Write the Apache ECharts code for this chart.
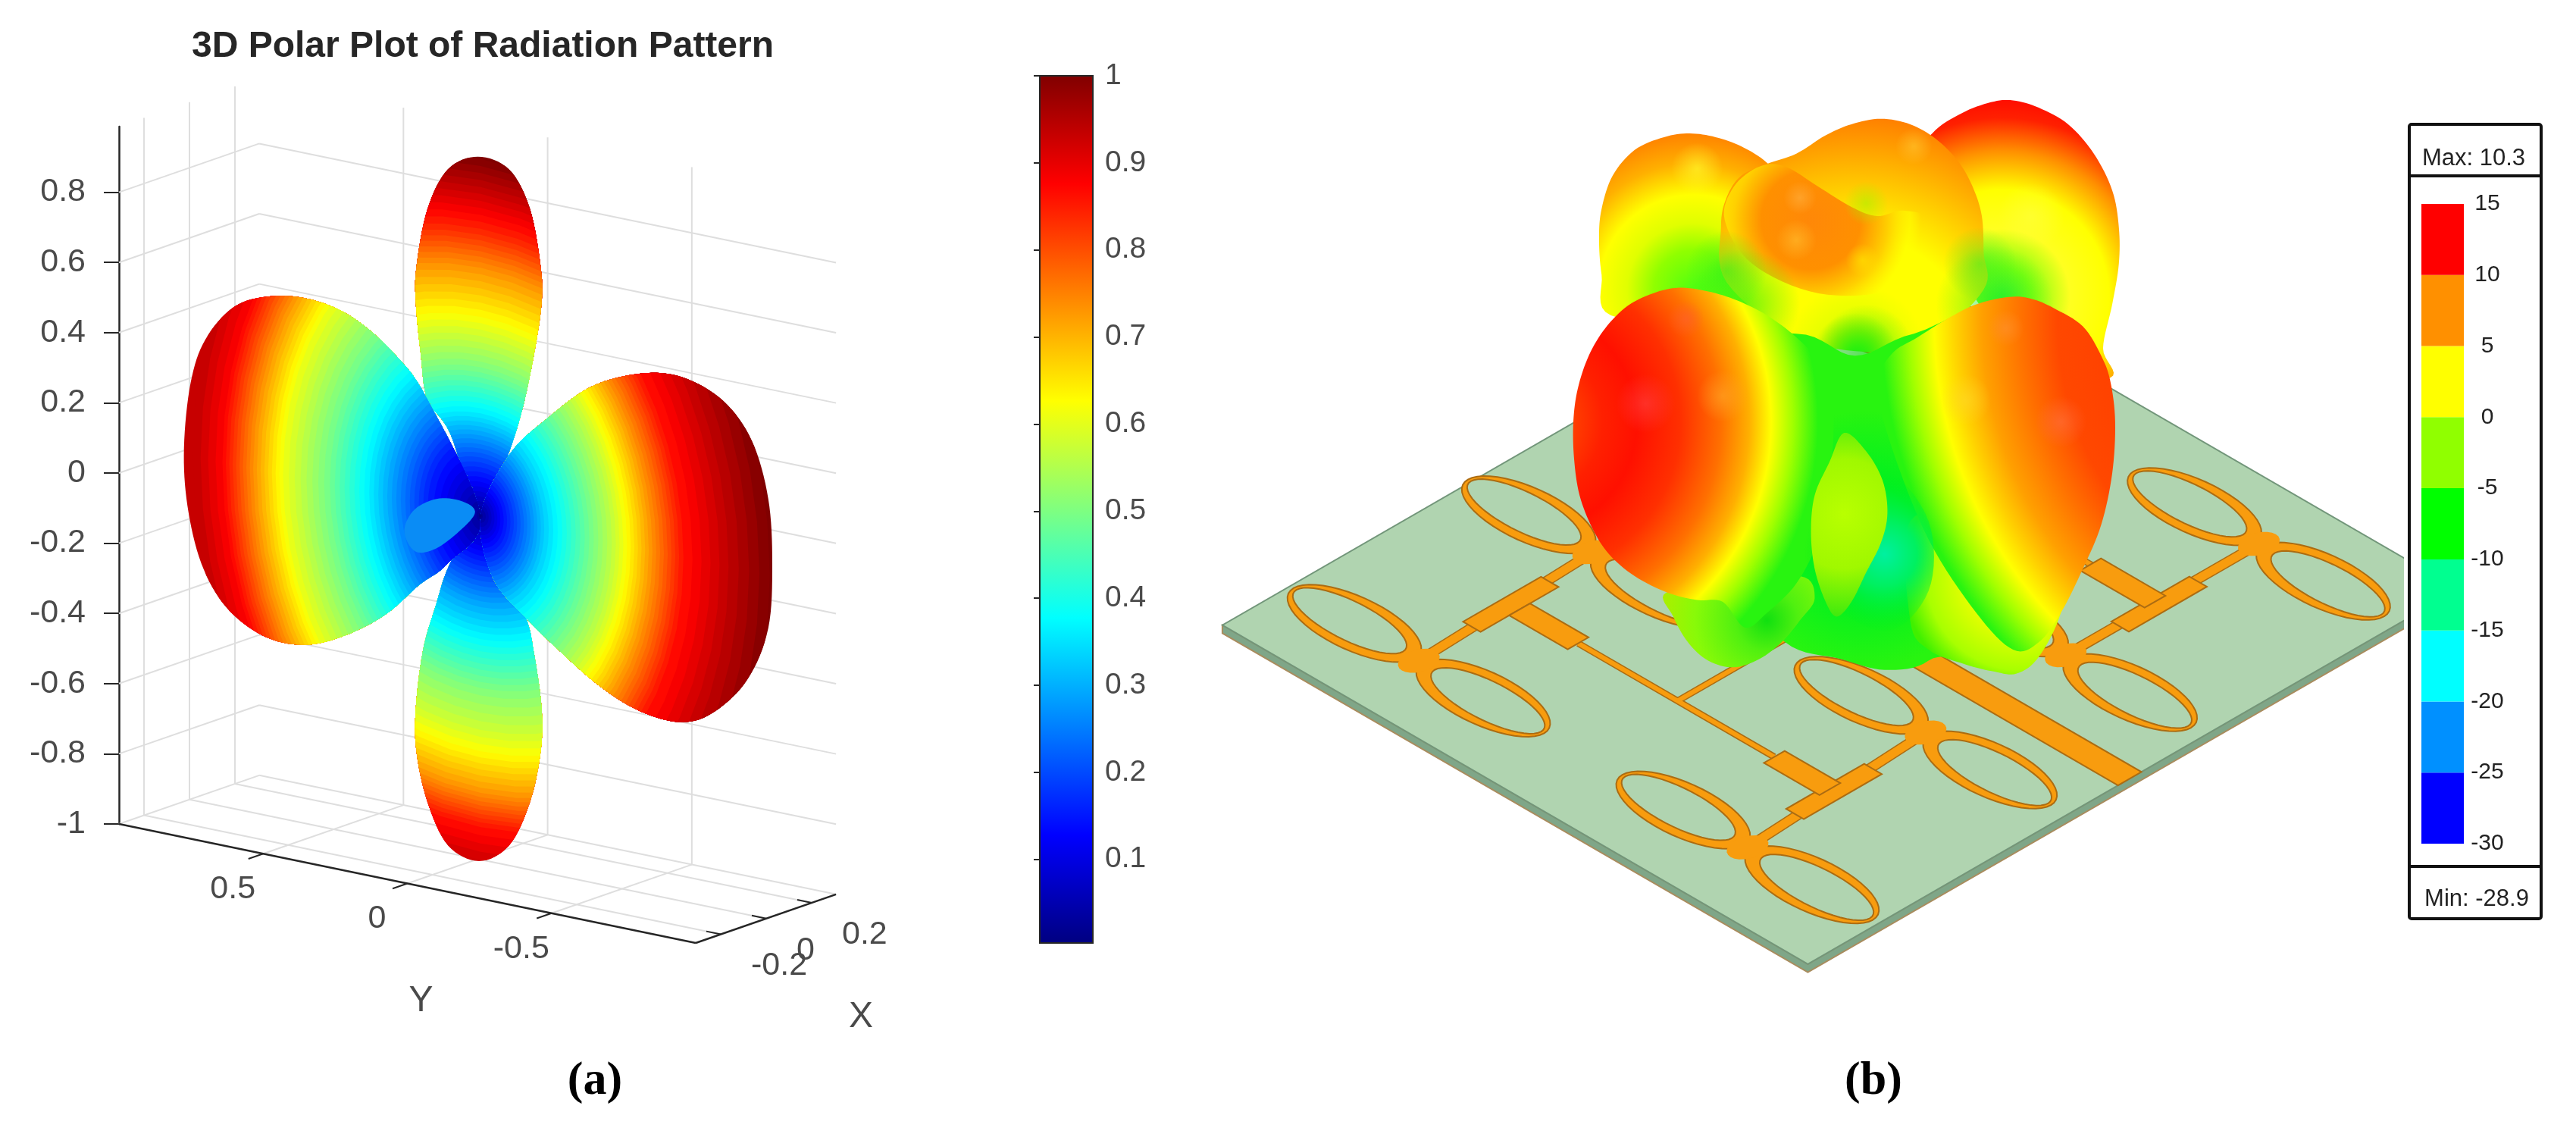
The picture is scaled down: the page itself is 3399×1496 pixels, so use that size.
<!DOCTYPE html>
<html>
<head>
<meta charset="utf-8">
<style>html,body{margin:0;background:#fff}#chart{width:3399px;height:1496px}</style>
<script src="https://cdn.jsdelivr.net/npm/echarts@6/dist/echarts.min.js"></script>
</head>
<body>
<div id="chart"></div>
<script>
// ---- panel (a) data
const zTicks = [-1, -0.8, -0.6, -0.4, -0.2, 0, 0.2, 0.4, 0.6, 0.8];
const yTicks = [0.5, 0, -0.5];
const xTicks = [-0.2, 0, 0.2];
const colorbarTicks = [0.1, 0.2, 0.3, 0.4, 0.5, 0.6, 0.7, 0.8, 0.9, 1];
const jetStops = [[0, '#000080'], [0.125, '#0000ff'], [0.375, '#00ffff'], [0.625, '#ffff00'], [0.875, '#ff0000'], [1, '#800000']];

// lobe outlines as [Y, Z]
const leftLobe = [[-0.01, -0.02], [0.175, 0.28], [0.289, 0.39], [0.432, 0.469], [0.574, 0.496], [0.717, 0.482], [0.845, 0.43], [0.945, 0.32], [0.996, 0.188], [1.019, -0.001], [1.007, -0.164], [0.959, -0.32], [0.874, -0.429], [0.745, -0.49], [0.603, -0.492], [0.46, -0.441], [0.318, -0.356], [0.204, -0.254], [0.104, -0.175]];
const rightLobe = [[-0.01, -0.02], [-0.109, 0.17], [-0.238, 0.294], [-0.394, 0.413], [-0.565, 0.479], [-0.708, 0.493], [-0.85, 0.45], [-0.95, 0.353], [-1.007, 0.198], [-1.021, 0.016], [-1.007, -0.172], [-0.936, -0.328], [-0.822, -0.44], [-0.708, -0.49], [-0.565, -0.484], [-0.423, -0.436], [-0.28, -0.357], [-0.166, -0.284], [-0.052, -0.19]];
const topLobe = [[0, 1.001], [-0.109, 0.983], [-0.181, 0.882], [-0.218, 0.723], [-0.221, 0.621], [-0.195, 0.472], [-0.152, 0.3], [-0.095, 0.147], [-0.01, -0.02], [0.096, 0.197], [0.175, 0.28], [0.198, 0.406], [0.215, 0.547], [0.213, 0.65], [0.175, 0.821], [0.104, 0.947]];
const bottomLobe = [[-0.004, -1.005], [-0.109, -0.942], [-0.181, -0.806], [-0.218, -0.656], [-0.221, -0.532], [-0.195, -0.382], [-0.166, -0.284], [-0.081, -0.164], [-0.01, -0.02], [0.096, -0.174], [0.147, -0.306], [0.19, -0.437], [0.215, -0.606], [0.213, -0.729], [0.175, -0.866], [0.104, -0.978]];
const frontLobe = [[0.255, -0.108], [0.218, -0.04], [0.133, 0.005], [0.047, 0.009], [0.01, -0.015], [0.062, -0.075], [0.147, -0.141], [0.218, -0.16]];

// colour value against distance from the origin, one list per lobe: [value, distance]
const leftLevels = [[0.02, 0.01], [0.15, 0.185], [0.35, 0.385], [0.48, 0.527], [0.6, 0.684], [0.72, 0.784], [0.87, 0.898], [0.93, 0.998]];
const rightLevels = [[0.02, 0.005], [0.12, 0.07], [0.32, 0.22], [0.45, 0.35], [0.56, 0.46], [0.62, 0.51], [0.72, 0.59], [0.85, 0.7], [0.93, 0.86], [1, 1.02]];
const topLevels = [[0.02, 0.01], [0.2, 0.17], [0.35, 0.29], [0.5, 0.43], [0.62, 0.57], [0.72, 0.7], [0.83, 0.81], [0.93, 0.937], [1, 1.026]];
const bottomLevels = [[0.02, 0.01], [0.28, 0.25], [0.37, 0.355], [0.5, 0.5], [0.57, 0.61], [0.62, 0.675], [0.72, 0.785], [0.85, 0.885], [0.92, 0.99]];

// ---- panel (b) data
// board in p,q (0..100)
const elementJunctions = [[22, 10.4], [20.8, 38.3], [22, 61], [22, 90], [77.6, 10.9], [75.8, 39.9], [76.3, 61], [76.3, 90.7]];
const mediumTraces = [[[22, 10.4], [20.8, 38.3]], [[22, 61], [22, 90]], [[77.6, 10.9], [75.8, 39.9]], [[76.3, 61], [76.3, 90.7]]];
const thinTraces = [[[33, 25], [66.5, 25]], [[33, 75], [66.5, 75]], [[50, 25], [50, 75]]];
const thickTraces = [
  [20, 19, 23, 31], [23, 23.4, 33, 26.6], [75.2, 19, 78.2, 31], [66.5, 23.4, 76, 26.6],
  [20, 69, 23, 81], [23, 73.4, 33, 76.6], [75.2, 69, 78.2, 81], [65, 73.4, 76, 76.6],
  [52, 47.7, 100, 51.3]
];
// pattern silhouettes, read on the crop grid of the right plot
const radiationOutlines = {
  backLeft: [[135, 590], [110, 480], [103, 380], [110, 300], [140, 210], [200, 140], [280, 105], [350, 95], [420, 105], [490, 130], [560, 175], [620, 250], [640, 500], [400, 600]],
  backRight: [[950, 200], [1010, 95], [1090, 40], [1170, 10], [1230, 5], [1300, 25], [1380, 70], [1450, 150], [1500, 250], [1518, 350], [1518, 450], [1500, 560], [1475, 680], [1495, 760], [1300, 760], [1100, 500]],
  backCenter: [[560, 178], [640, 150], [720, 100], [790, 70], [870, 55], [950, 70], [1020, 110], [1080, 170], [1120, 240], [1145, 320], [1150, 420], [1150, 520], [1000, 660], [850, 690], [640, 650], [450, 500], [435, 350], [450, 270], [490, 210]],
  frontRim: [[445, 330], [470, 240], [540, 185], [610, 185], [700, 240], [790, 295], [860, 320], [930, 305], [1010, 330], [1020, 420], [900, 520], [700, 530], [520, 450]],
  core: [[640, 640], [800, 700], [960, 640], [1250, 600], [1100, 1400], [1000, 1530], [880, 1555], [760, 1525], [610, 1480], [480, 1300], [350, 700]],
  lowerLeft: [[285, 1345], [305, 1410], [345, 1480], [400, 1530], [470, 1548], [540, 1525], [600, 1480], [650, 1420], [690, 1360], [650, 1300], [450, 1330]],
  lowerRight: [[950, 1150], [1130, 1150], [1380, 1250], [1360, 1400], [1300, 1520], [1240, 1565], [1180, 1560], [1100, 1540], [1000, 1500], [950, 1420]],
  frontLeft: [[320, 515], [250, 530], [180, 565], [120, 625], [75, 700], [45, 790], [33, 880], [35, 980], [50, 1080], [85, 1170], [130, 1240], [200, 1300], [290, 1345], [370, 1365], [440, 1370], [500, 1440], [560, 1400], [640, 1320], [700, 1200], [730, 1050], [740, 850], [700, 720], [640, 650], [560, 590], [480, 550], [400, 525]],
  frontRight: [[1220, 540], [1130, 560], [1050, 600], [970, 650], [900, 695], [860, 780], [900, 950], [1000, 1200], [1130, 1400], [1230, 1500], [1300, 1480], [1360, 1400], [1420, 1280], [1470, 1160], [1500, 1020], [1508, 880], [1495, 770], [1470, 700], [1420, 620], [1340, 570], [1280, 545]],
  midGlow: [[880, 1000], [1000, 1150], [1000, 1340], [880, 1450], [700, 1340], [660, 1150], [760, 1020]],
  lens: [[770, 910], [730, 990], [690, 1080], [680, 1180], [690, 1280], [720, 1370], [750, 1410], [790, 1370], [830, 1290], [870, 1210], [888, 1130], [875, 1040], [830, 960]]
};
// soft patches on the pattern: x, y, radius, colour
const backSpots = [[500, 560, 150, '#10ee10'], [450, 470, 110, '#20f020'], [1180, 560, 160, '#20f020'], [1140, 450, 100, '#40f020'], [830, 690, 130, '#10f010'], [370, 190, 70, '#ffff30'], [1280, 320, 90, '#ffff40'], [830, 285, 60, '#a8f000'], [650, 270, 45, '#ffb040'], [640, 385, 55, '#ffc030'], [820, 440, 45, '#ffe800'], [960, 130, 50, '#ffc830']];
const frontSpots = [[230, 830, 80, '#ff4040'], [1360, 880, 70, '#ff7040'], [440, 810, 70, '#ffa828'], [1100, 820, 70, '#ffd828'], [340, 600, 50, '#ff6030'], [1210, 625, 50, '#ff9030']];
const legendEdges = [-30, -25, -20, -15, -10, -5, 0, 5, 10, 15];
const legendColors = ['#0000ff', '#0090ff', '#00ffff', '#00ff90', '#00ff00', '#90ff00', '#ffff00', '#ff9000', '#ff0000'];

// ---- helpers
const yTop = 1, xMin = -0.31, xMax = 0.307, zTop = 0.987;
function project(x, y, z) {
  const dy = 1 - y, dx = x - xMin;
  return [dy * 380.5 + dx * 300, z - (dy * 78.5 - dx * 104) / 463];
}
function jet(v) {
  for (let i = 1; i < jetStops.length; i++) {
    if (v <= jetStops[i][0]) {
      const a = jetStops[i - 1], b = jetStops[i];
      const t = (v - a[0]) / (b[0] - a[0]);
      const ca = echarts.color.parse(a[1]), cb = echarts.color.parse(b[1]);
      return 'rgb(' + [0, 1, 2].map(k => Math.round(ca[k] + (cb[k] - ca[k]) * t)).join(',') + ')';
    }
  }
  return jetStops[jetStops.length - 1][1];
}
function reach(levels, v) {
  for (let i = 1; i < levels.length; i++) {
    if (v <= levels[i][0]) {
      const a = levels[i - 1], b = levels[i];
      return a[1] + (b[1] - a[1]) * (v - a[0]) / (b[0] - a[0]);
    }
  }
  return levels[levels.length - 1][1] * 1.3;
}
// closed Catmull-Rom through pixel points, keeps outlines round
function rounded(pts) {
  const out = [], n = pts.length;
  for (let i = 0; i < n; i++) {
    const p0 = pts[(i + n - 1) % n], p1 = pts[i], p2 = pts[(i + 1) % n], p3 = pts[(i + 2) % n];
    for (let s = 0; s < 8; s++) {
      const t = s / 8, t2 = t * t, t3 = t2 * t;
      out.push([0, 1].map(k => 0.5 * (2 * p1[k] + (p2[k] - p0[k]) * t + (2 * p0[k] - 5 * p1[k] + 4 * p2[k] - p3[k]) * t2 + (3 * p1[k] - p0[k] - 3 * p2[k] + p3[k]) * t3)));
    }
  }
  return out;
}
const lineStyle = (c, w) => ({ stroke: c, lineWidth: w, fill: null });

function axes3dItem(params, api) {
  const pt = (x, y, z) => api.coord(project(x, y, z));
  const kids = [];
  const seg = (a, b, c, w) => kids.push({ type: 'line', shape: { x1: a[0], y1: a[1], x2: b[0], y2: b[1] }, style: lineStyle(c, w) });
  const grey = '#dedede';
  zTicks.forEach(z => {
    seg(pt(xMin, yTop, z), pt(xMax, yTop, z), grey, 2);
    seg(pt(xMax, yTop, z), pt(xMax, -1, z), grey, 2);
  });
  xTicks.forEach(x => {
    seg(pt(x, yTop, -1), pt(x, yTop, zTop), grey, 2);
    seg(pt(x, yTop, -1), pt(x, -1, -1), grey, 2);
  });
  yTicks.forEach(y => {
    seg(pt(xMax, y, -1), pt(xMax, y, zTop), grey, 2);
    seg(pt(xMin, y, -1), pt(xMax, y, -1), grey, 2);
  });
  const dark = '#262626';
  seg(pt(xMin, yTop, -1), pt(xMin, -1, -1), dark, 2.5);
  seg(pt(xMin, -1, -1), pt(xMax, -1, -1), dark, 2.5);
  const label = (p, txt, ox, oy, align, size) => kids.push({
    type: 'text', style: { text: txt, x: p[0] + ox, y: p[1] + oy, align: align, verticalAlign: 'middle', fill: '#4a4a4a', font: size + 'px "Liberation Sans"' }
  });
  yTicks.forEach(y => {
    const a = pt(xMin, y, -1);
    seg(a, pt(xMin - 0.065, y, -1), dark, 2);
    label(a, String(y), -40, 47, 'center', 43);
  });
  xTicks.forEach(x => {
    const a = pt(x, -1, -1);
    seg(a, pt(x, -0.95, -1), dark, 2);
    label(a, String(x), 40, 42, 'left', 43);
  });
  label(pt(xMin, 0, -1), 'Y', 18, 155, 'center', 48);
  label(pt(0, -1, -1), 'X', 125, 130, 'center', 48);
  return { type: 'group', children: kids };
}

function lobeItem(outline, levels, horizontal) {
  return function (params, api) {
    const pts = rounded(outline.map(p => api.coord(project(0, p[0], p[1]))));
    const kids = [];
    const ring = (r, fill) => {
      const ry = horizontal ? r : r * 1.2, rz = horizontal ? r * 1.15 : r;
      const poly = [];
      for (let a = 0; a < 48; a++) {
        const t = a / 48 * Math.PI * 2;
        poly.push(api.coord(project(0, -0.01 + ry * Math.cos(t), -0.02 + rz * Math.sin(t))));
      }
      kids.push({ type: 'polygon', shape: { points: poly }, style: { fill: fill } });
    };
    ring(3, jet(levels[levels.length - 1][0]));
    for (let i = 63; i >= 0; i--) {
      const v = (i + 0.5) / 64;
      if (v < levels[levels.length - 1][0]) ring(reach(levels, v), jet(v));
    }
    return { type: 'group', clipPath: { type: 'polygon', shape: { points: pts } }, children: kids };
  };
}

function frontLobeItem(params, api) {
  return {
    type: 'polygon',
    shape: { points: rounded(frontLobe.map(p => api.coord(project(0, p[0], p[1])))) },
    style: { fill: '#0a8cf5' }
  };
}

function colorbarItem(params, api) {
  const a = api.coord([0, api.value(0)]), b = api.coord([1, api.value(1)]);
  return {
    type: 'rect',
    shape: { x: a[0], y: b[1], width: b[0] - a[0], height: a[1] - b[1] },
    style: {
      fill: new echarts.graphic.LinearGradient(0, 1, 0, 0, jetStops.map(s => ({ offset: s[0], color: s[1] }))),
      stroke: '#262626', lineWidth: 2
    }
  };
}

const toBoard = (p, q) => [167 + p * 6.06 + q * 6.73, 815 + p * 5.03 - q * 5.56];

function boardItem(params, api) {
  const c = (p, q, dy) => { const b = toBoard(p, q); return api.coord([b[0], b[1] + (dy || 0)]); };
  const kids = [];
  const orange = '#f89c0e', edge = '#ac6c12', board = '#b0d4b0';
  const oval = (cp, cq, a, b, n) => {
    const poly = [];
    for (let i = 0; i < n; i++) {
      const t = i / n * Math.PI * 2;
      poly.push(c(cp + a * Math.cos(t), cq + b * Math.sin(t)));
    }
    return poly;
  };
  const traces = (list, w) => {
    list.forEach(t => kids.push({ type: 'polyline', shape: { points: t.map(p => c(p[0], p[1])) }, style: lineStyle(edge, w + 3) }));
    list.forEach(t => kids.push({ type: 'polyline', shape: { points: t.map(p => c(p[0], p[1])) }, style: lineStyle(orange, w) }));
  };
  kids.push({ type: 'polygon', shape: { points: [c(0, 0), c(100, 0), c(100, 100), c(100, 100, 12), c(100, 0, 12), c(0, 0, 12)] }, style: { fill: '#7fa688', stroke: '#a98c5e', lineWidth: 2 } });
  kids.push({ type: 'polygon', shape: { points: [c(0, 0), c(100, 0), c(100, 100), c(0, 100)] }, style: { fill: board, stroke: '#72967a', lineWidth: 2 } });
  traces(thinTraces, 6);
  traces(mediumTraces, 11);
  thickTraces.forEach(r => kids.push({ type: 'polygon', shape: { points: [c(r[0], r[1]), c(r[2], r[1]), c(r[2], r[3]), c(r[0], r[3])] }, style: { fill: orange, stroke: edge, lineWidth: 2 } }));
  elementJunctions.forEach(j => {
    [-11, 11].forEach(off => {
      kids.push({ type: 'polygon', shape: { points: oval(j[0] + off, j[1], 10.4, 4.3, 48) }, style: { fill: orange, stroke: edge, lineWidth: 2 } });
    });
    kids.push({ type: 'polygon', shape: { points: oval(j[0], j[1], 2.1, 2.6, 24) }, style: { fill: orange } });
    [-11, 11].forEach(off => {
      const shift = off < 0 ? -0.8 : 0.8;
      kids.push({ type: 'polygon', shape: { points: oval(j[0] + off + shift, j[1], 9.1, 3.1, 48) }, style: { fill: board, stroke: edge, lineWidth: 2 } });
    });
  });
  return { type: 'group', children: kids };
}

function radiationItem(params, api) {
  const kids = [];
  const radial = (cx, cy, r, stops) => {
    const c0 = api.coord([cx, cy]), c1 = api.coord([cx + r, cy]);
    return new echarts.graphic.RadialGradient(c0[0], c0[1], c1[0] - c0[0], stops.map(s => ({ offset: s[0], color: s[1] })), true);
  };
  const blob = (name, fill) => kids.push({
    type: 'polygon',
    shape: { points: rounded(radiationOutlines[name].map(p => api.coord(p))) },
    style: { fill: fill }
  });
  const spots = list => list.forEach(s => {
    const c0 = api.coord([s[0], s[1]]), c1 = api.coord([s[0] + s[2], s[1]]);
    kids.push({
      type: 'circle', shape: { cx: c0[0], cy: c0[1], r: c1[0] - c0[0] },
      style: { fill: radial(s[0], s[1], s[2], [[0, echarts.color.modifyAlpha(s[3], 0.6)], [1, echarts.color.modifyAlpha(s[3], 0)]]) }
    });
  });
  blob('backLeft', radial(360, 520, 430, [[0, '#50ff10'], [0.25, '#90ff00'], [0.42, '#e0ff00'], [0.6, '#ffff00'], [0.8, '#ffb000'], [1, '#ff8000']]));
  blob('backRight', radial(1200, 540, 530, [[0, '#40f030'], [0.15, '#80ff10'], [0.35, '#ffff20'], [0.55, '#ffff00'], [0.75, '#ff9000'], [0.92, '#ff2000'], [1, '#ff1000']]));
  blob('backCenter', radial(800, 700, 650, [[0, '#20f010'], [0.1, '#90f000'], [0.18, '#e8ff00'], [0.3, '#ffff00'], [0.5, '#ffff00'], [0.75, '#ffc000'], [1, '#ff8000']]));
  blob('frontRim', radial(680, 330, 300, [[0, '#ff8808'], [0.45, '#ff9000'], [0.7, '#ffd000'], [0.9, 'rgba(255,255,0,0.6)'], [1, 'rgba(255,255,0,0)']]));
  spots(backSpots);
  blob('core', radial(830, 1200, 500, [[0, '#00f060'], [0.3, '#00f020'], [0.7, '#28f410'], [1, '#28f410']]));
  blob('lowerLeft', radial(560, 1420, 280, [[0, '#10e010'], [0.3, '#50f010'], [0.7, '#88fa08'], [1, '#a8f000']]));
  blob('lowerRight', radial(1250, 1300, 320, [[0, '#ffff00'], [0.5, '#e0ff00'], [0.8, '#a8ff00'], [1, '#40f000']]));
  blob('frontLeft', radial(-100, 880, 850, [[0.15, '#ff4000'], [0.25, '#ff2000'], [0.36, '#ff1000'], [0.5, '#ff3000'], [0.63, '#ff7000'], [0.72, '#ffb000'], [0.79, '#ffff00'], [0.86, '#a0ff00'], [0.94, '#28f410'], [1, '#28f410']]));
  blob('frontRight', radial(2200, 600, 1370, [[0.5, '#ff4000'], [0.62, '#ff4800'], [0.69, '#ff7000'], [0.77, '#ffa000'], [0.82, '#ffd000'], [0.865, '#ffff00'], [0.915, '#a0ff00'], [0.97, '#28f410'], [1, '#28f410']]));
  spots(frontSpots);
  blob('midGlow', radial(880, 1240, 220, [[0, '#00f0a0'], [0.4, '#00f060'], [1, 'rgba(0,240,20,0)']]));
  blob('lens', radial(770, 1130, 300, [[0, '#b8ff00'], [0.5, '#a0f800'], [1, '#30e810']]));
  return { type: 'group', children: kids };
}

function legendItem(params, api) {
  const i = api.value(0);
  const a = api.coord([0, legendEdges[i]]), b = api.coord([1, legendEdges[i + 1]]);
  return {
    type: 'rect', shape: { x: a[0], y: b[1], width: b[0] - a[0], height: a[1] - b[1] },
    style: { fill: legendColors[i] }
  };
}

const chart = echarts.init(document.getElementById('chart'));
const sans = '"Liberation Sans"';
const serifRich = { n: { fontFamily: '"Liberation Serif"', fontSize: 62, color: '#000' }, b: { fontFamily: '"Liberation Serif"', fontWeight: 'bold', fontSize: 62, color: '#000' } };
const hidden = (min, max, inverse) => ({ type: 'value', show: false, min: min, max: max, inverse: !!inverse });

chart.setOption({
  animation: false,
  backgroundColor: '#fff',
  title: [
    { text: '3D Polar Plot of Radiation Pattern', left: 632, top: 33, textAlign: 'center', textStyle: { fontFamily: sans, fontWeight: 'bold', fontSize: 48, color: '#262626' } },
    { text: '{n|(}{b|a}{n|)}', left: 780, top: 1391, textAlign: 'center', textStyle: { rich: serifRich } },
    { text: '{n|(}{b|b}{n|)}', left: 2467, top: 1391, textAlign: 'center', textStyle: { rich: serifRich } }
  ],
  grid: [
    { left: 157, top: 167, width: 949, height: 920 },
    { left: 1372, top: 100, width: 70, height: 1144 },
    { left: 1400, top: 100, width: 1772, height: 1396 },
    { left: 3195, top: 269, width: 56, height: 844 },
    { left: 2060, top: 130, width: 760, height: 760 }
  ],
  xAxis: [
    Object.assign(hidden(0, 949), { gridIndex: 0 }),
    Object.assign(hidden(0, 1), { gridIndex: 1 }),
    Object.assign(hidden(0, 1390), { gridIndex: 2 }),
    Object.assign(hidden(0, 1), { gridIndex: 3 }),
    Object.assign(hidden(0, 1568), { gridIndex: 4 })
  ],
  yAxis: [
    {
      gridIndex: 0, type: 'value', min: -1, max: zTop, position: 'left',
      axisLine: { show: true, lineStyle: { color: '#262626', width: 2.5 } },
      axisTick: { show: true, length: 20, customValues: zTicks, lineStyle: { color: '#262626', width: 2 } },
      axisLabel: { customValues: zTicks, margin: 44, fontFamily: sans, fontSize: 43, color: '#4a4a4a' },
      splitLine: { show: false }
    },
    {
      gridIndex: 1, type: 'value', min: 0.004, max: 1, position: 'right',
      axisLine: { show: false },
      axisTick: { show: true, inside: true, length: 8, customValues: colorbarTicks, lineStyle: { color: '#262626', width: 2 } },
      axisLabel: { customValues: colorbarTicks, margin: 16, fontFamily: sans, fontSize: 39, color: '#4a4a4a' },
      splitLine: { show: false }
    },
    Object.assign(hidden(0, 1570, true), { gridIndex: 2 }),
    {
      gridIndex: 3, type: 'value', min: -30, max: 15, interval: 5, position: 'right',
      axisLine: { show: false }, axisTick: { show: false }, splitLine: { show: false },
      axisLabel: { margin: 31, align: 'center', padding: [20, 0, 0, 0], fontFamily: sans, fontSize: 30, color: '#222' }
    },
    Object.assign(hidden(0, 1568, true), { gridIndex: 4 })
  ],
  series: [
    { type: 'custom', xAxisIndex: 0, yAxisIndex: 0, silent: true, data: [[0, 0]], renderItem: axes3dItem },
    { type: 'custom', xAxisIndex: 0, yAxisIndex: 0, silent: true, data: [[0, 0]], renderItem: lobeItem(topLobe, topLevels, false) },
    { type: 'custom', xAxisIndex: 0, yAxisIndex: 0, silent: true, data: [[0, 0]], renderItem: lobeItem(bottomLobe, bottomLevels, false) },
    { type: 'custom', xAxisIndex: 0, yAxisIndex: 0, silent: true, data: [[0, 0]], renderItem: lobeItem(leftLobe, leftLevels, true) },
    { type: 'custom', xAxisIndex: 0, yAxisIndex: 0, silent: true, data: [[0, 0]], renderItem: lobeItem(rightLobe, rightLevels, true) },
    { type: 'custom', xAxisIndex: 0, yAxisIndex: 0, silent: true, data: [[0, 0]], renderItem: frontLobeItem },
    { type: 'custom', xAxisIndex: 1, yAxisIndex: 1, silent: true, data: [[0.004, 1]], renderItem: colorbarItem },
    { type: 'custom', xAxisIndex: 2, yAxisIndex: 2, silent: true, clip: true, data: [[0, 0]], renderItem: boardItem },
    { type: 'custom', xAxisIndex: 4, yAxisIndex: 4, silent: true, data: [[0, 0]], renderItem: radiationItem },
    { type: 'custom', xAxisIndex: 3, yAxisIndex: 3, silent: true, data: legendColors.map((c, i) => [i]), renderItem: legendItem }
  ],
  graphic: [
    { type: 'rect', shape: { x: 3179, y: 164, width: 174, height: 1048, r: 3 }, style: { fill: 'none', stroke: '#111', lineWidth: 4 } },
    { type: 'line', shape: { x1: 3179, y1: 232, x2: 3353, y2: 232 }, style: { stroke: '#111', lineWidth: 4 } },
    { type: 'line', shape: { x1: 3179, y1: 1143, x2: 3353, y2: 1143 }, style: { stroke: '#111', lineWidth: 4 } },
    { type: 'text', style: { text: 'Max: 10.3', x: 3264, y: 209, align: 'center', verticalAlign: 'middle', fill: '#222', font: '31px "Liberation Sans"' } },
    { type: 'text', style: { text: 'Min: -28.9', x: 3268, y: 1186, align: 'center', verticalAlign: 'middle', fill: '#222', font: '31px "Liberation Sans"' } }
  ]
});
</script>
</body>
</html>
